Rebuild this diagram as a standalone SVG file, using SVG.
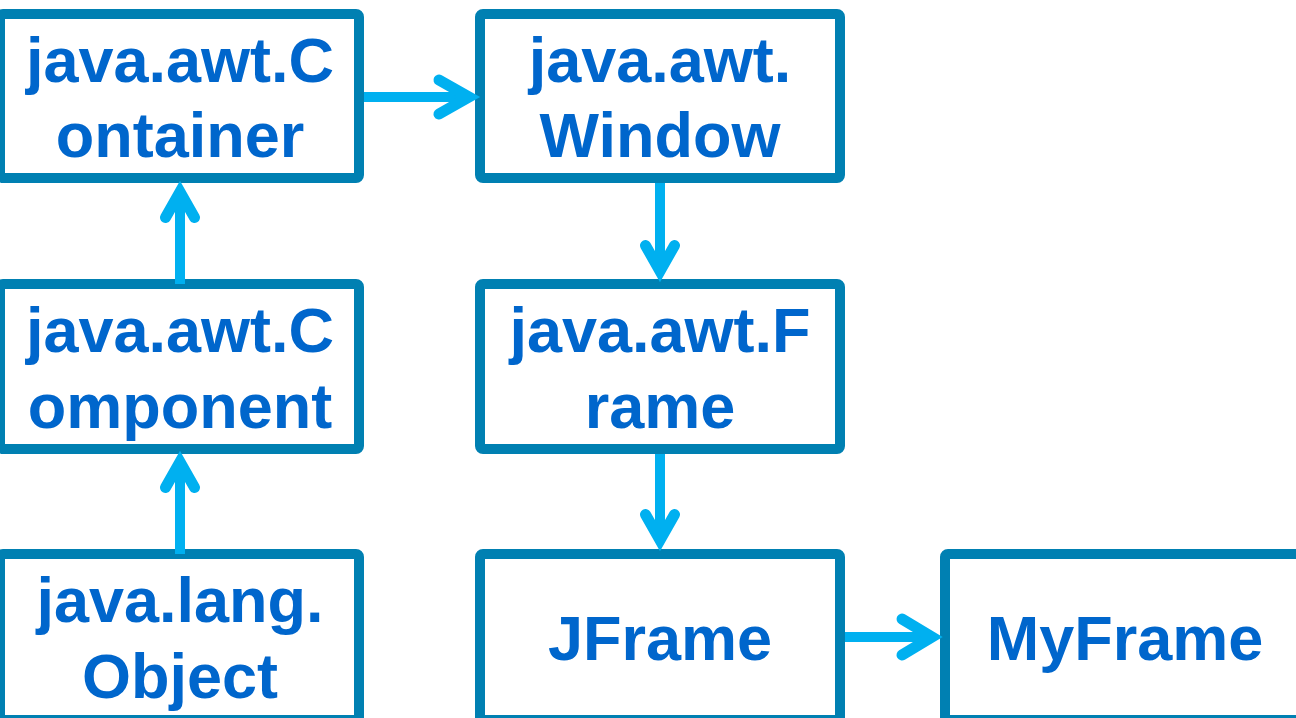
<svg xmlns="http://www.w3.org/2000/svg" width="1296" height="718" viewBox="0 0 1296 718">
<style>
.box{fill:#fff;stroke:#0080B2;stroke-width:10;stroke-linejoin:round}
.t{font-family:"Liberation Sans",Arial,sans-serif;font-weight:bold;font-size:63px;fill:#0066CC;text-anchor:middle}
.ln{stroke:#00B0F0;stroke-width:10;fill:none}
.hd{stroke:#00B0F0;stroke-width:11;fill:none;stroke-linecap:round;stroke-linejoin:miter;stroke-miterlimit:10}
</style>
<rect width="1296" height="718" fill="#fff"/>
<g id="container">
<rect class="box" x="0" y="14" width="359" height="164" rx="3"/>
<text class="t" x="180" y="82">java.awt.C</text>
<text class="t" x="180" y="157">ontainer</text>
</g>
<g id="window">
<rect class="box" x="480" y="14" width="360" height="164" rx="3"/>
<text class="t" x="660" y="82">java.awt.</text>
<text class="t" x="660" y="157">Window</text>
</g>
<g id="component">
<rect class="box" x="0" y="284" width="359" height="165" rx="3"/>
<text class="t" x="180" y="352">java.awt.C</text>
<text class="t" x="180" y="428">omponent</text>
</g>
<g id="frame">
<rect class="box" x="480" y="284" width="360" height="165" rx="3"/>
<text class="t" x="660" y="352">java.awt.F</text>
<text class="t" x="660" y="428">rame</text>
</g>
<g id="object">
<rect class="box" x="0" y="554" width="359" height="166" rx="3"/>
<text class="t" x="180" y="622">java.lang.</text>
<text class="t" x="180" y="698">Object</text>
</g>
<g id="jframe">
<rect class="box" x="480" y="554" width="360" height="166" rx="3"/>
<text class="t" x="660" y="660">JFrame</text>
</g>
<g id="myframe">
<rect class="box" x="945" y="554" width="360" height="166" rx="3"/>
<text class="t" x="1125" y="660">MyFrame</text>
</g>
<g id="connectors">
<line class="ln" x1="364" y1="97" x2="466" y2="97"/>
<polyline class="hd" points="439,80 469,97 439,114"/>
<line class="ln" x1="660" y1="183" x2="660" y2="268"/>
<polyline class="hd" points="645.5,245.5 660,271 674.5,245.5"/>
<line class="ln" x1="660" y1="454" x2="660" y2="537"/>
<polyline class="hd" points="645.5,514.5 660,540 674.5,514.5"/>
<line class="ln" x1="845" y1="637" x2="929" y2="637"/>
<polyline class="hd" points="902,619 932,637 902,655"/>
<line class="ln" x1="180" y1="554" x2="180" y2="465"/>
<polyline class="hd" points="165.5,487.5 180,462 194.5,487.5"/>
<line class="ln" x1="180" y1="284" x2="180" y2="195"/>
<polyline class="hd" points="165.5,217.5 180,192 194.5,217.5"/>
</g>
</svg>
